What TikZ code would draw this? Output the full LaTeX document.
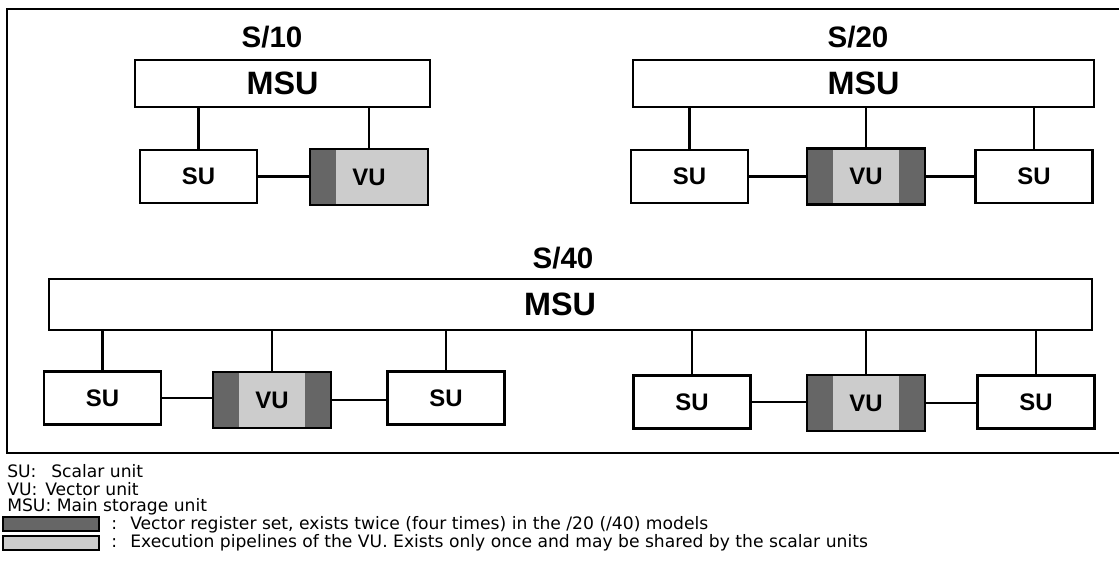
\documentclass[tikz,border=0pt]{standalone}
\usepackage{fontspec}
\setmainfont{Liberation Sans}
\newfontfamily\legfont{DejaVu Sans}
\usetikzlibrary{positioning}
\definecolor{regset}{gray}{0.40}
\definecolor{pipes}{gray}{0.80}
\tikzset{
  title/.style={font=\fontsize{21}{24}\selectfont\bfseries, inner sep=0pt},
  msu/.style={rectangle, draw, line width=1.8pt, fill=white, inner sep=0pt,
              font=\fontsize{23}{26}\selectfont\bfseries, minimum height=1.175cm},
  unit/.style={rectangle, draw, line width=1.8pt, fill=white, inner sep=0pt,
               font=\fontsize{17}{20}\selectfont\bfseries,
               minimum width=2.925cm, minimum height=1.325cm},
  vubox/.style={unit, fill=pipes, minimum width=2.95cm, minimum height=1.4cm},
  vuone/.style={vubox, path picture={
      \fill[regset] (path picture bounding box.south west)
        rectangle ([xshift=0.65cm]path picture bounding box.north west);}},
  vutwo/.style={vubox, path picture={
      \fill[regset] (path picture bounding box.south west)
        rectangle ([xshift=0.65cm]path picture bounding box.north west);
      \fill[regset] (path picture bounding box.north east)
        rectangle ([xshift=-0.65cm]path picture bounding box.south east);}},
  link/.style={line width=1.7pt},
  legtxt/.style={font=\legfont\fontsize{12.2}{14}\selectfont, inner sep=0pt, anchor=west},
  swatch/.style={rectangle, draw, line width=1.5pt, inner sep=0pt,
                 minimum width=2.4cm, minimum height=0.36cm}
}

\begin{document}
\begin{tikzpicture}[x=0.025cm, y=-0.025cm]
  \useasboundingbox (0,0) rectangle (1119,580);
  \draw[line width=1.4pt] (7,9) rectangle (1140,453);

  % S/10
  \node[title] (t10) at (272,37) {S/10};
  \node[msu, minimum width=7.375cm] (msu10) at (282.5,83.5) {MSU};
  \node[unit] (su10) at (198.5,176.5) {SU};
  \node[vuone] (vu10) at (369,177) {VU};
  \draw[link] (su10.north) -- (su10.north |- msu10.south);
  \draw[link] (vu10.north) -- (vu10.north |- msu10.south);
  \draw[link] (su10.east) -- (su10.east -| vu10.west);

  % S/20
  \node[title] (t20) at (858,37) {S/20};
  \node[msu, minimum width=11.525cm] (msu20) at (863.5,83.5) {MSU};
  \node[unit] (su20a) at (689.5,176.5) {SU};
  \node[vutwo] (vu20) at (866,176.5) {VU};
  \node[unit] (su20b) at (1034,176.5) {SU};
  \foreach \u in {su20a,vu20,su20b}
    \draw[link] (\u.north) -- (\u.north |- msu20.south);
  \draw[link] (su20a.east) -- (su20a.east -| vu20.west);
  \draw[link] (vu20.east) -- (vu20.east -| su20b.west);

  % S/40
  \node[title] (t40) at (563,258) {S/40};
  \node[msu, minimum width=26.075cm, minimum height=1.275cm] (msu40) at (570.5,304.5) {};
  \node[font=\fontsize{23}{26}\selectfont\bfseries, inner sep=0pt] (m40) at (560,304.5) {MSU};
  \node[unit] (su40a) at (102.5,398) {SU};
  \node[vutwo] (vu40a) at (272,400) {VU};
  \node[unit] (su40b) at (446,398) {SU};
  \node[unit] (su40c) at (692,402) {SU};
  \node[vutwo] (vu40b) at (866,403) {VU};
  \node[unit] (su40d) at (1036,402) {SU};
  \foreach \u in {su40a,vu40a,su40b,su40c,vu40b,su40d}
    \draw[link] (\u.north) -- (\u.north |- msu40.south);
  \draw[link] (su40a.east) -- (su40a.east -| vu40a.west);
  \draw[link] (vu40a.east) -- (vu40a.east -| su40b.west);
  \draw[link] (su40c.east) -- (su40c.east -| vu40b.west);
  \draw[link] (vu40b.east) -- (vu40b.east -| su40d.west);

  % legend
  \node[legtxt] (ksu) at (7,471) {SU:};
  \node[legtxt] (dsu) at (51,471) {Scalar unit};
  \node[legtxt] (kvu) at (7,489) {VU:};
  \node[legtxt] (dvu) at (45,489) {Vector unit};
  \node[legtxt] (kmsu) at (7,507) {MSU: Main storage unit};
  \node[swatch, fill=regset] (sw1) at (51,524) {};
  \node[legtxt] (c1) at (111,525) {:};
  \node[legtxt] (d1) at (130,525) {Vector register set, exists twice (four times) in the /20 (/40) models};
  \node[swatch, fill=pipes] (sw2) at (51,543) {};
  \node[legtxt] (c2) at (111,543) {:};
  \node[legtxt] (d2) at (130,543) {Execution pipelines of the VU. Exists only once and may be shared by the scalar units};
\end{tikzpicture}
\end{document}
